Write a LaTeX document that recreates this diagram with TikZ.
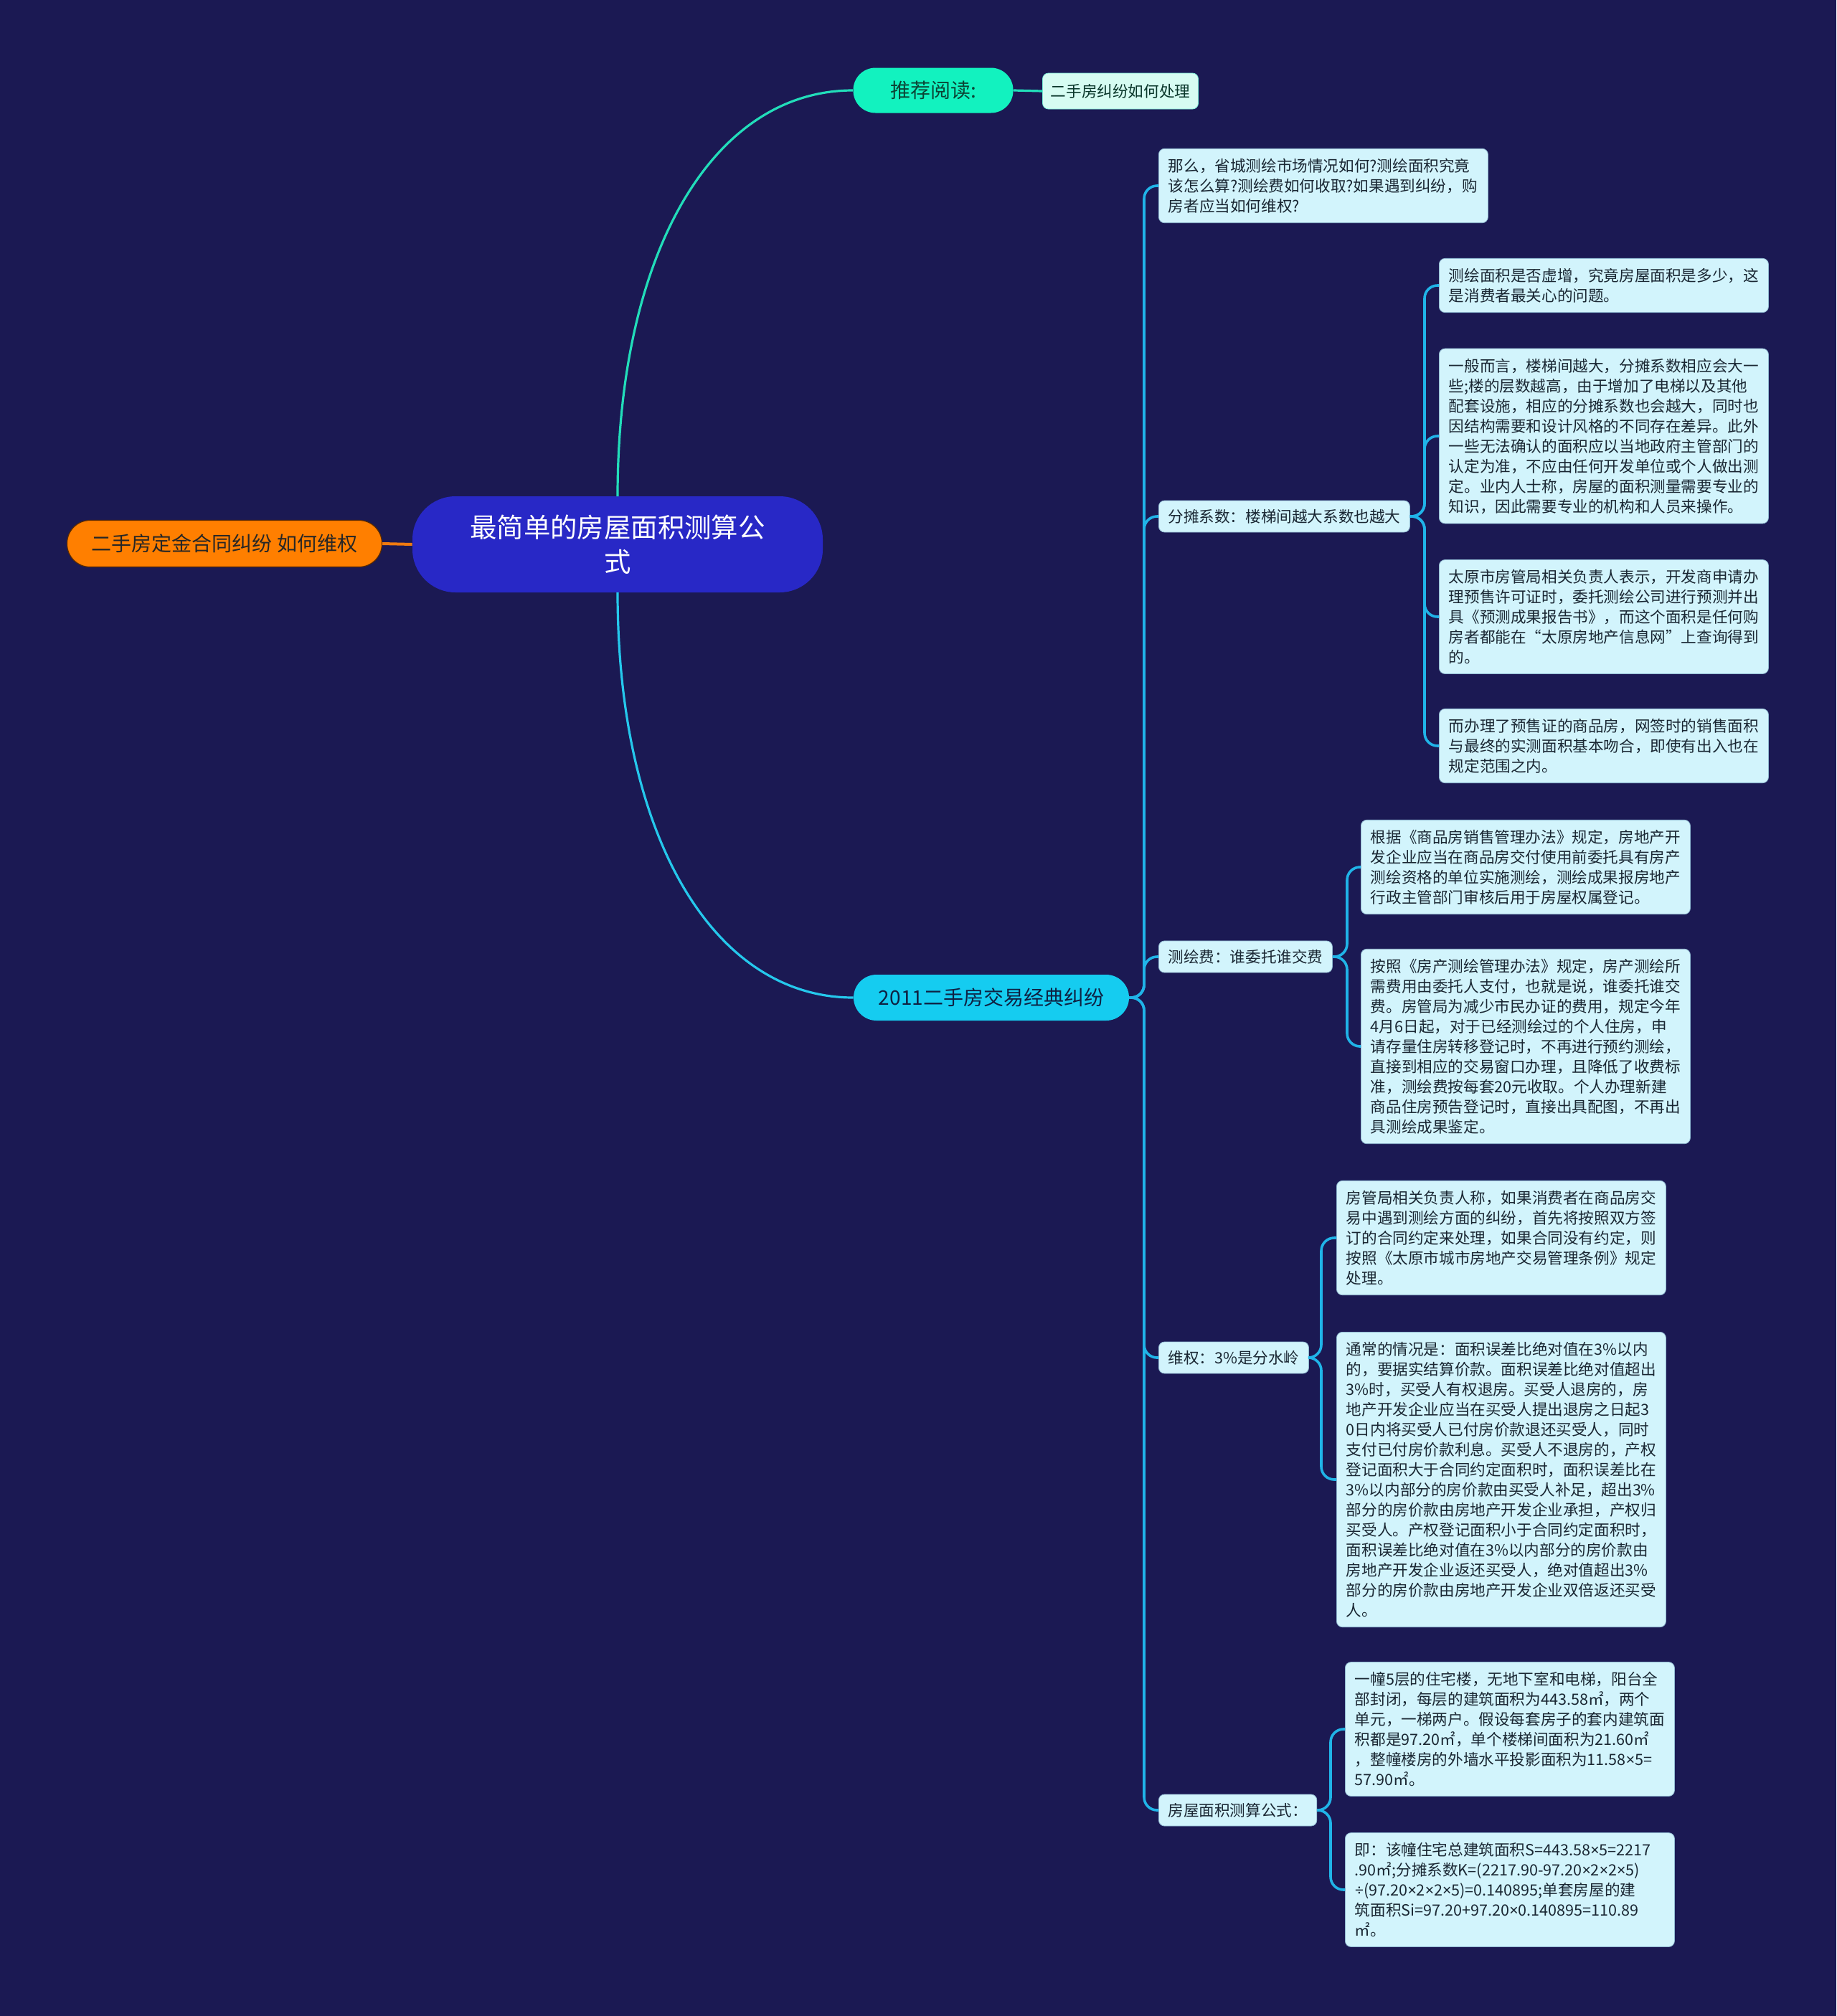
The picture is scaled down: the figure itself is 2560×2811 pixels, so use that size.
\documentclass[tikz,border=0pt]{standalone}
\usepackage{fontspec}
\newfontfamily\cjk{Noto Sans CJK SC}
\newfontfamily\latn{Noto Sans}
\newcommand\mytimes{{\latn ×}}
\newcommand\mydiv{{\latn ÷}}
\definecolor{bgcol}{HTML}{1B1953}
\definecolor{rootfill}{HTML}{2828C6}
\definecolor{orangefill}{HTML}{FF7F00}
\definecolor{orangeedge}{HTML}{5A2A00}
\definecolor{mintfill}{HTML}{12F2BF}
\definecolor{minttext}{HTML}{0B4434}
\definecolor{mintlight}{HTML}{D6FCF2}
\definecolor{cyanfill}{HTML}{15CCF0}
\definecolor{cyantext}{HTML}{0E2142}
\definecolor{boxfill}{HTML}{D2F4FC}
\definecolor{boxedge}{HTML}{8FB8D0}
\definecolor{boxtext}{HTML}{1A2733}
\definecolor{lineblue}{HTML}{20B4E8}
\definecolor{linecyan}{HTML}{25C8EC}
\definecolor{lineteal}{HTML}{22DDBA}
\definecolor{lineorange}{HTML}{F07A10}
\begin{document}
\begin{tikzpicture}[x=0.5pt,y=-0.5pt,
  conn/.style={draw=lineblue, line width=1.8pt, rounded corners=9pt},
  txtbox/.style={rectangle, rounded corners=4pt, fill=boxfill, draw=boxedge, line width=0.4pt,
    text=boxtext, font=\cjk\fontsize{10.8}{14}\selectfont, inner xsep=6.75pt, inner ysep=6.8pt,
    align=left, text width=216pt, anchor=west},
  lblbox/.style={rectangle, rounded corners=4pt, fill=boxfill, draw=boxedge, line width=0.4pt,
    text=boxtext, font=\cjk\fontsize{10.8}{14}\selectfont, inner xsep=6.5pt, inner ysep=6pt, anchor=west},
  rootbox/.style={rectangle, rounded corners=30pt, fill=rootfill, text=white,
    font=\cjk\fontsize{18.7}{24}\selectfont, align=center, minimum width=286pt, minimum height=67pt},
  orangebox/.style={rectangle, rounded corners=16pt, fill=orangefill, draw=orangeedge, line width=0.6pt,
    text=black!85, font=\cjk\fontsize{14}{17}\selectfont, minimum width=219.5pt, minimum height=32.5pt},
  recbox/.style={rectangle, rounded corners=15.5pt, fill=mintfill, text=minttext,
    font=\cjk\fontsize{14}{17}\selectfont, minimum width=111.5pt, minimum height=31.5pt},
  reclight/.style={rectangle, rounded corners=4pt, fill=mintlight, draw=lineteal!60, line width=0.4pt,
    text=minttext!80!black, font=\cjk\fontsize{10.8}{14}\selectfont, minimum width=108.5pt, minimum height=25pt},
  lvlbox/.style={rectangle, rounded corners=16pt, fill=cyanfill, text=cyantext,
    font=\cjk\fontsize{14}{17}\selectfont, minimum width=192pt, minimum height=32pt}
]
\useasboundingbox (0,0) rectangle (2560,2811);
\fill[bgcol] (0,0) rectangle (2560,2811);

% main nodes
\node[rootbox] (root) at (861,759) {最简单的房屋面积测算公\\式};
\node[orangebox] (orange) at (313,758) {二手房定金合同纠纷 如何维权};
\node[recbox] (rec) at (1301,126) {推荐阅读:};
\node[reclight] (recc) at (1562,127) {二手房纠纷如何处理};
\node[lvlbox] (lv) at (1382,1391) {2011二手房交易经典纠纷};

% children of 2011
\node[txtbox] (c1) at (1615,259) {那么，省城测绘市场情况如何?测绘面积究竟\\该怎么算?测绘费如何收取?如果遇到纠纷，购\\房者应当如何维权?};
\node[lblbox] (c2) at (1615,720) {分摊系数：楼梯间越大系数也越大};
\node[lblbox] (c3) at (1615,1334) {测绘费：谁委托谁交费};
\node[lblbox] (c4) at (1615,1893) {维权：3\%是分水岭};
\node[lblbox] (c5) at (1615,2524) {房屋面积测算公式：};

% grandchildren of c2
\node[txtbox] (g2a) at (2006,398) {测绘面积是否虚增，究竟房屋面积是多少，这\\是消费者最关心的问题。};
\node[txtbox] (g2b) at (2006,608) {一般而言，楼梯间越大，分摊系数相应会大一\\些;楼的层数越高，由于增加了电梯以及其他\\配套设施，相应的分摊系数也会越大，同时也\\因结构需要和设计风格的不同存在差异。此外\\一些无法确认的面积应以当地政府主管部门的\\认定为准，不应由任何开发单位或个人做出测\\定。业内人士称，房屋的面积测量需要专业的\\知识，因此需要专业的机构和人员来操作。};
\node[txtbox] (g2c) at (2006,860) {太原市房管局相关负责人表示，开发商申请办\\理预售许可证时，委托测绘公司进行预测并出\\具《预测成果报告书》，而这个面积是任何购\\房者都能在“太原房地产信息网”上查询得到\\的。};
\node[txtbox] (g2d) at (2006,1040) {而办理了预售证的商品房，网签时的销售面积\\与最终的实测面积基本吻合，即使有出入也在\\规定范围之内。};

% grandchildren of c3
\node[txtbox] (g3a) at (1897,1209) {根据《商品房销售管理办法》规定，房地产开\\发企业应当在商品房交付使用前委托具有房产\\测绘资格的单位实施测绘，测绘成果报房地产\\行政主管部门审核后用于房屋权属登记。};
\node[txtbox] (g3b) at (1897,1459) {按照《房产测绘管理办法》规定，房产测绘所\\需费用由委托人支付，也就是说，谁委托谁交\\费。房管局为减少市民办证的费用，规定今年\\4月6日起，对于已经测绘过的个人住房，申\\请存量住房转移登记时，不再进行预约测绘，\\直接到相应的交易窗口办理，且降低了收费标\\准，测绘费按每套20元收取。个人办理新建\\商品住房预告登记时，直接出具配图，不再出\\具测绘成果鉴定。};

% grandchildren of c4
\node[txtbox] (g4a) at (1863,1726) {房管局相关负责人称，如果消费者在商品房交\\易中遇到测绘方面的纠纷，首先将按照双方签\\订的合同约定来处理，如果合同没有约定，则\\按照《太原市城市房地产交易管理条例》规定\\处理。};
\node[txtbox] (g4b) at (1863,2063) {通常的情况是：面积误差比绝对值在3\%以内\\的，要据实结算价款。面积误差比绝对值超出\\3\%时，买受人有权退房。买受人退房的，房\\地产开发企业应当在买受人提出退房之日起3\\0日内将买受人已付房价款退还买受人，同时\\支付已付房价款利息。买受人不退房的，产权\\登记面积大于合同约定面积时，面积误差比在\\3\%以内部分的房价款由买受人补足，超出3\%\\部分的房价款由房地产开发企业承担，产权归\\买受人。产权登记面积小于合同约定面积时，\\面积误差比绝对值在3\%以内部分的房价款由\\房地产开发企业返还买受人，绝对值超出3\%\\部分的房价款由房地产开发企业双倍返还买受\\人。};

% grandchildren of c5
\node[txtbox] (g5a) at (1875,2411) {一幢5层的住宅楼，无地下室和电梯，阳台全\\部封闭，每层的建筑面积为443.58㎡，两个\\单元，一梯两户。假设每套房子的套内建筑面\\积都是97.20㎡，单个楼梯间面积为21.60㎡\\，整幢楼房的外墙水平投影面积为11.58\mytimes5=\\57.90㎡。};
\node[txtbox] (g5b) at (1875,2635) {即：该幢住宅总建筑面积S=443.58\mytimes5=2217\\.90㎡;分摊系数K=(2217.90-97.20\mytimes2\mytimes2\mytimes5)\\\mydiv(97.20\mytimes2\mytimes2\mytimes5)=0.140895;单套房屋的建\\筑面积Si=97.20+97.20\mytimes0.140895=110.89\\㎡。};

% connectors from root
\draw[lineorange, line width=2pt] (root.west) -- (orange.east);
\draw[lineteal, line width=1.6pt] (861,692) .. controls (861,352) and (994,126) .. (rec.west);
\draw[lineteal, line width=1.6pt] (rec.east) -- (recc.west);
\draw[linecyan, line width=1.6pt] (861,826) .. controls (861,1165) and (994,1391) .. (lv.west);

% 2011 subtree
\foreach \c in {c1,c2,c3,c4,c5}
  \draw[conn] (lv.east) -- (1595,1391) |- (\c.west);
\foreach \g in {g2a,g2b,g2c,g2d}
  \draw[conn] (c2.east) -- (1986,720) |- (\g.west);
\foreach \g in {g3a,g3b}
  \draw[conn] (c3.east) -- (1878,1334) |- (\g.west);
\foreach \g in {g4a,g4b}
  \draw[conn] (c4.east) -- (1842,1893) |- (\g.west);
\foreach \g in {g5a,g5b}
  \draw[conn] (c5.east) -- (1855,2524) |- (\g.west);
\end{tikzpicture}
\end{document}
